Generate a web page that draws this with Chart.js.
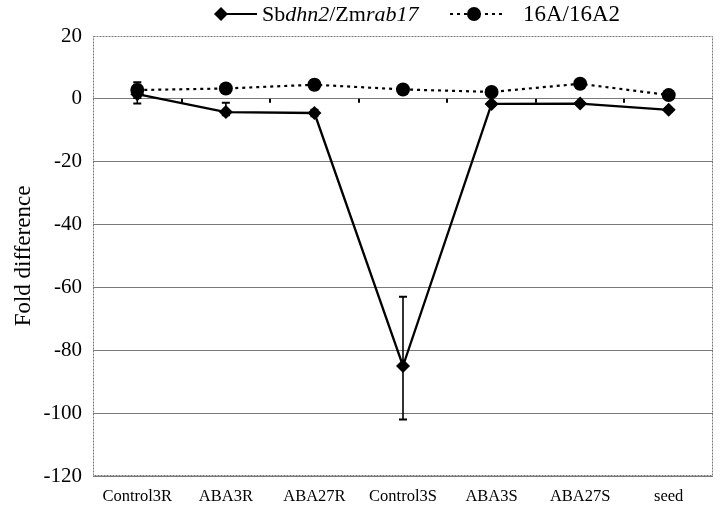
<!DOCTYPE html>
<html>
<head>
<meta charset="utf-8">
<script src="https://cdn.jsdelivr.net/npm/chart.js@4"></script>
<style>
  body { margin: 0; background: #fff; }
  canvas { display: block; }
</style>
</head>
<body>
<canvas id="foldChart" width="720" height="512"></canvas>
<script>
// категории и данные
const categories = ['Control3R', 'ABA3R', 'ABA27R', 'Control3S', 'ABA3S', 'ABA27S', 'seed'];
const dhnValues = [1.5, -4.2, -4.5, -85, -1.6, -1.5, -3.5];
const dhnErrUp = [3, 3, 1, 22, 0.5, 0.5, 0.5];
const dhnErrDown = [3, 1, 1, 17, 0.5, 0.5, 0.5];
const a16Values = [2.8, 3.3, 4.5, 3.0, 2.2, 4.8, 1.2];
const a16ErrUp = [2.5, 0.5, 1.5, 0.5, 0.5, 0.5, 0.5];
const a16ErrDown = [2.5, 0.5, 1.5, 0.5, 0.5, 0.5, 0.5];
const yTicks = [20, 0, -20, -40, -60, -80, -100, -120];

const serif = "'Liberation Serif', 'Times New Roman', serif";

// планки погрешностей
const errorBars = {
    id: 'errorBars',
    afterDatasetsDraw(chart) {
        const ctx = chart.ctx;
        const y = chart.scales.y;
        chart.data.datasets.forEach((ds, di) => {
            const meta = chart.getDatasetMeta(di);
            meta.data.forEach((pt, i) => {
                const top = y.getPixelForValue(ds.data[i] + ds.errUp[i]);
                const bot = y.getPixelForValue(ds.data[i] - ds.errDown[i]);
                ctx.save();
                ctx.strokeStyle = '#000';
                ctx.lineWidth = 1.6;
                ctx.beginPath();
                ctx.moveTo(pt.x, top); ctx.lineTo(pt.x, bot);
                ctx.stroke();
                ctx.lineWidth = 2;
                ctx.beginPath();
                ctx.moveTo(pt.x - 4, top); ctx.lineTo(pt.x + 4, top);
                ctx.moveTo(pt.x - 4, bot); ctx.lineTo(pt.x + 4, bot);
                ctx.stroke();
                ctx.restore();
            });
        });
    }
};

// рамка области построения и засечки на нулевой линии
const plotFrame = {
    id: 'plotFrame',
    beforeDatasetsDraw(chart) {
        const { ctx, chartArea: a, scales } = chart;
        ctx.save();
        ctx.strokeStyle = '#777';
        ctx.lineWidth = 1;
        ctx.setLineDash([2, 1]);
        ctx.strokeRect(a.left + 0.5, a.top + 0.5, a.right - a.left - 1, a.bottom - a.top - 1);
        ctx.setLineDash([]);
        const y0 = scales.y.getPixelForValue(0);
        const step = scales.x.getPixelForValue(1) - scales.x.getPixelForValue(0);
        ctx.strokeStyle = '#000';
        ctx.lineWidth = 2;
        ctx.beginPath();
        for (let i = 0; i < categories.length - 1; i++) {
            const x = Math.round(scales.x.getPixelForValue(i) + step / 2);
            ctx.moveTo(x, y0); ctx.lineTo(x, y0 + 4);
        }
        ctx.stroke();
        ctx.restore();
    }
};

// легенда с курсивом в названии гена
const customLegend = {
    id: 'customLegend',
    afterDraw(chart) {
        const ctx = chart.ctx;
        const cy = 14;
        ctx.save();
        ctx.fillStyle = '#000';
        ctx.strokeStyle = '#000';
        // первая серия
        ctx.lineWidth = 2.2;
        ctx.beginPath(); ctx.moveTo(221, cy); ctx.lineTo(257, cy); ctx.stroke();
        ctx.beginPath();
        ctx.moveTo(221, cy - 7); ctx.lineTo(228, cy); ctx.lineTo(221, cy + 7); ctx.lineTo(214, cy);
        ctx.closePath(); ctx.fill();
        const parts = [['Sb', false], ['dhn2', true], ['/Zm', false], ['rab17', true]];
        let x = 262;
        ctx.textBaseline = 'middle';
        parts.forEach(([t, it]) => {
            ctx.font = (it ? 'italic ' : '') + '22px ' + serif;
            ctx.fillText(t, x, cy + 1);
            x += ctx.measureText(t).width;
        });
        // вторая серия
        ctx.setLineDash([3, 4]);
        ctx.beginPath(); ctx.moveTo(450, cy); ctx.lineTo(505, cy); ctx.stroke();
        ctx.setLineDash([]);
        ctx.beginPath(); ctx.arc(474, cy, 7, 0, Math.PI * 2); ctx.fill();
        ctx.font = '23px ' + serif;
        ctx.fillText(chart.data.datasets[1].label, 523, cy + 1);
        ctx.restore();
    }
};

new Chart(document.getElementById('foldChart'), {
    type: 'line',
    data: {
        labels: categories,
        datasets: [
            {
                label: 'Sbdhn2/Zmrab17',
                data: dhnValues,
                errUp: dhnErrUp,
                errDown: dhnErrDown,
                borderColor: '#000',
                backgroundColor: '#000',
                borderWidth: 2.3,
                pointStyle: 'rectRot',
                pointRadius: 7,
                pointBorderWidth: 0,
                tension: 0
            },
            {
                label: '16A/16A2',
                data: a16Values,
                errUp: a16ErrUp,
                errDown: a16ErrDown,
                borderColor: '#000',
                backgroundColor: '#000',
                borderWidth: 2.2,
                borderDash: [3, 4],
                pointStyle: 'circle',
                pointRadius: 7,
                pointBorderWidth: 0,
                tension: 0
            }
        ]
    },
    options: {
        responsive: false,
        animation: false,
        layout: { padding: { top: 36, right: 6, left: 0, bottom: 0 } },
        plugins: {
            legend: { display: false },
            tooltip: { enabled: false }
        },
        scales: {
            x: {
                offset: true,
                grid: { display: false, drawTicks: false },
                border: { display: false },
                ticks: { color: '#000', font: { family: serif, size: 16.5 }, padding: 11, maxRotation: 0 },
                afterFit(scale) { scale.height = 36; }
            },
            y: {
                min: -120,
                max: 20,
                afterBuildTicks(scale) { scale.ticks = yTicks.map(v => ({ value: v })); },
                grid: {
                    drawTicks: false,
                    color: ctx => ctx.tick && ctx.tick.value === 20 ? 'rgba(0,0,0,0)' : '#7a7a7a'
                },
                border: { display: false },
                ticks: { color: '#000', font: { family: serif, size: 21 }, padding: 11 },
                title: {
                    display: true,
                    text: 'Fold difference',
                    color: '#000',
                    font: { family: serif, size: 23 },
                    padding: { top: 10, bottom: 0 }
                },
                afterFit(scale) { scale.width = 93; }
            }
        }
    },
    plugins: [plotFrame, errorBars, customLegend]
});
</script>
</body>
</html>
